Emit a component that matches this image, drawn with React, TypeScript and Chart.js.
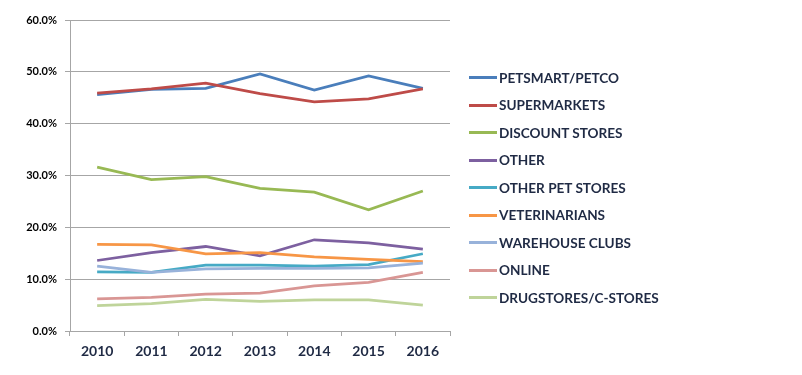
import React, { useEffect, useRef } from "react";
import { Chart, registerables } from "chart.js";

Chart.register(...registerables);

const years = ["2010", "2011", "2012", "2013", "2014", "2015", "2016"];

const seriesNames = [
  "PETSMART/PETCO",
  "SUPERMARKETS",
  "DISCOUNT STORES",
  "OTHER",
  "OTHER PET STORES",
  "VETERINARIANS",
  "WAREHOUSE CLUBS",
  "ONLINE",
  "DRUGSTORES/C-STORES",
];

const petsmart = [45.6, 46.6, 46.8, 49.6, 46.5, 49.2, 46.8];
const supermarkets = [45.9, 46.7, 47.8, 45.8, 44.2, 44.8, 46.7];
const discountStores = [31.6, 29.2, 29.8, 27.5, 26.8, 23.4, 27.0];
const other = [13.6, 15.1, 16.3, 14.5, 17.6, 17.0, 15.8];
const otherPetStores = [11.4, 11.3, 12.7, 12.7, 12.5, 12.8, 14.9];
const veterinarians = [16.7, 16.6, 14.9, 15.1, 14.3, 13.8, 13.4];
const warehouseClubs = [12.5, 11.3, 12.0, 12.1, 12.1, 12.2, 13.1];
const online = [6.2, 6.5, 7.1, 7.3, 8.7, 9.4, 11.3];
const drugstores = [4.9, 5.3, 6.1, 5.7, 6.0, 6.0, 5.0];

const yTicks = [0, 10, 20, 30, 40, 50, 60];

const seriesValues = [
  petsmart,
  supermarkets,
  discountStores,
  other,
  otherPetStores,
  veterinarians,
  warehouseClubs,
  online,
  drugstores,
];

const colors = [
  "#4A7EBB",
  "#BE4B48",
  "#98B954",
  "#7D60A0",
  "#46AAC5",
  "#F79646",
  "#98B2DA",
  "#D99694",
  "#BFD49A",
];

const FONT = "Lato, 'Open Sans', sans-serif";

export default function App() {
  const canvasRef = useRef<HTMLCanvasElement | null>(null);

  useEffect(() => {
    if (!canvasRef.current) return;
    const chart = new Chart(canvasRef.current, {
      type: "line",
      data: {
        labels: years,
        datasets: seriesNames.map((name, i) => ({
          label: name,
          data: seriesValues[i],
          borderColor: colors[i],
          backgroundColor: colors[i],
          borderWidth: 2.75,
          pointRadius: 0,
          tension: 0,
          fill: false,
          order: -i,
        })),
      },
      options: {
        animation: false,
        responsive: false,
        maintainAspectRatio: false,
        layout: { padding: { top: 20, right: 352, bottom: 0, left: 0 } },
        plugins: {
          legend: { display: false },
          tooltip: { enabled: false },
        },
        scales: {
          x: {
            type: "category",
            offset: true,
            grid: {
              offset: true,
              drawOnChartArea: false,
              drawTicks: true,
              tickLength: 5,
              color: "#A6A6A6",
            },
            border: { color: "#A6A6A6", width: 1 },
            ticks: {
              color: "#1F2A44",
              font: { family: FONT, size: 14, weight: "bold" },
              padding: 7,
              maxRotation: 0,
            },
            afterFit: (axis: any) => {
              axis.height = 44;
            },
          },
          y: {
            min: 0,
            max: 60,
            afterBuildTicks: (axis: any) => {
              axis.ticks = yTicks.map((v) => ({ value: v }));
            },
            grid: {
              color: "#A6A6A6",
              lineWidth: 1,
              drawTicks: true,
              tickLength: 5,
            },
            border: { color: "#A6A6A6", width: 1 },
            ticks: {
              color: "#000000",
              font: { family: FONT, size: 11, weight: "bold" },
              padding: 8,
              callback: (v: any) => Number(v).toFixed(1) + "%",
            },
            afterFit: (axis: any) => {
              axis.width = 70;
            },
          },
        },
      },
    });
    return () => chart.destroy();
  }, []);

  return (
    <div style={{ position: "absolute", left: 0, top: 0, width: 802, height: 375, background: "#fff" }}>
      <canvas ref={canvasRef} width={802} height={375} style={{ display: "block" }} />
      <div style={{ position: "absolute", left: 469, top: 64, fontFamily: FONT }}>
        {seriesNames.map((name, i) => (
          <div key={name} style={{ display: "flex", alignItems: "center", height: 27.5 }}>
            <span style={{ display: "inline-block", width: 28, height: 3, background: colors[i], marginRight: 2 }} />
            <span style={{ fontSize: 13.6, fontWeight: 700, color: "#1F2A44", whiteSpace: "nowrap" }}>{name}</span>
          </div>
        ))}
      </div>
    </div>
  );
}
